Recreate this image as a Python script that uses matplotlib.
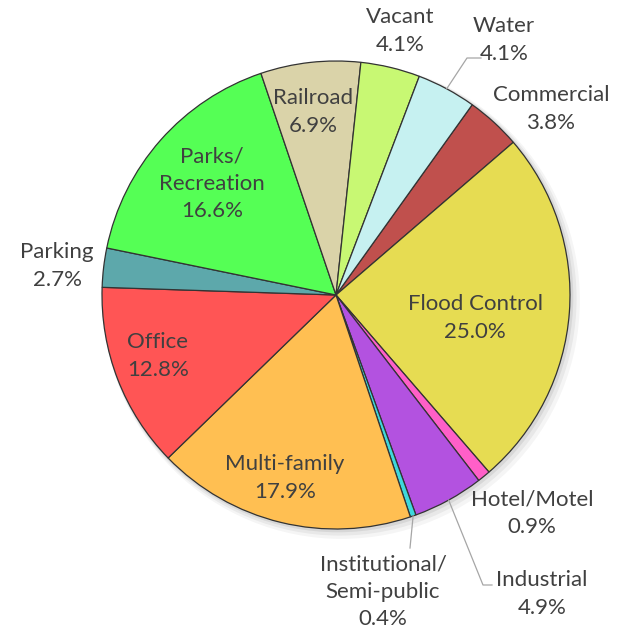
import numpy as np
import matplotlib.pyplot as plt
from matplotlib.patches import Circle

# land use shares (%), alphabetical like the source sheet
categories = ["Commercial", "Flood Control", "Hotel/Motel", "Industrial",
              "Institutional/\nSemi-public", "Multi-family", "Office", "Parking",
              "Parks/\nRecreation", "Railroad", "Vacant", "Water"]
shares = [3.8, 25.0, 0.9, 4.9, 0.4, 17.9, 12.8, 2.7, 16.6, 6.9, 4.1, 4.1]
colors = ["#C0504D", "#E6DC52", "#FF5FC8", "#B352E0", "#3ED8DC", "#FFBF52",
          "#FF5555", "#5DA8AB", "#55FF55", "#DAD3A9", "#C8F873", "#C6F1F1"]

# label centres in pixel space (x right, y down)
label_pos = {
    "Commercial": (551, 109), "Flood Control": (475, 318), "Hotel/Motel": (532, 513),
    "Industrial": (542, 594), "Institutional/\nSemi-public": (383, 592),
    "Multi-family": (285, 478), "Office": (158, 356), "Parking": (57, 266),
    "Parks/\nRecreation": (212, 184), "Railroad": (313, 112), "Vacant": (400, 31),
    "Water": (504, 40),
}

W, H = 630, 635
cx, cy, R = 336, H - 295, 234

fig = plt.figure(figsize=(6.3, 6.35), dpi=100)
ax = fig.add_axes([0, 0, 1, 1])

# soft shadow
for k, a in [(9, 0.04), (6, 0.05), (3, 0.07)]:
    ax.add_patch(Circle((cx + k * 0.6, cy - k * 0.6), R + k * 0.5, color="black", alpha=a, lw=0))

wedges, _ = ax.pie(shares, colors=colors, startangle=54.4, counterclock=False,
                   center=(cx, cy), radius=R, frame=True,
                   wedgeprops=dict(edgecolor="#333333", linewidth=0.9))
ax.set_xlim(0, W)
ax.set_ylim(0, H)
ax.set_aspect("equal")
ax.axis("off")

txt = "#404040"
for name, w, v in zip(categories, wedges, shares):
    x, y = label_pos[name]
    ax.text(x, H - y, f"{name}\n{v:.1f}%", ha="center", va="center", fontsize=16,
            color=txt, family="Lato", linespacing=1.45)

# leader lines for the small outside labels
def edge_point(w):
    t = np.deg2rad((w.theta1 + w.theta2) / 2)
    return cx + R * np.cos(t), cy + R * np.sin(t)

lead = {"Water": [(467, 58), (481, 58)],
        "Industrial": [(483, 585), (492, 585)],
        "Institutional/\nSemi-public": [(410, 548)]}
for name, w in zip(categories, wedges):
    if name in lead:
        x0, y0 = edge_point(w)
        xs = [x0] + [p[0] for p in lead[name]]
        ys = [y0] + [H - p[1] for p in lead[name]]
        ax.plot(xs, ys, color="#A6A6A6", lw=0.9)

fig.savefig("out.png", dpi=100)
